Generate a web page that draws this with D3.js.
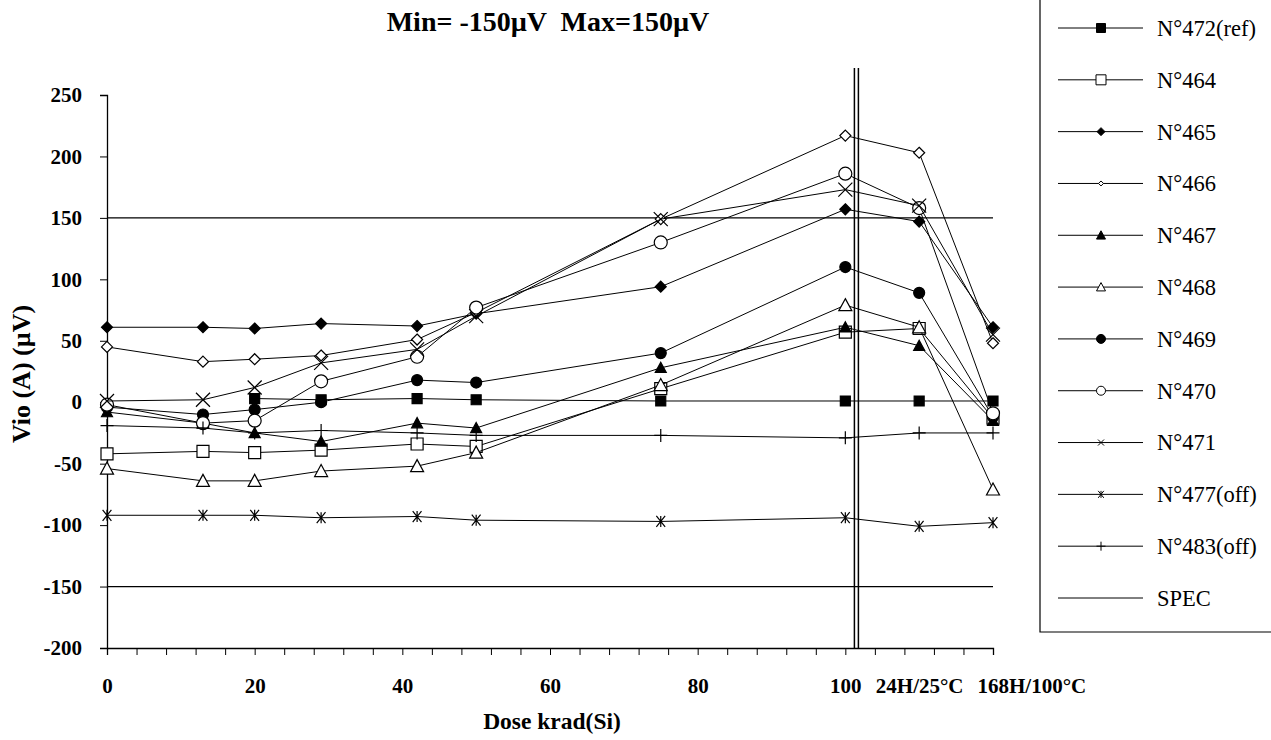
<!DOCTYPE html>
<html>
<head>
<meta charset="utf-8">
<script src="https://cdn.jsdelivr.net/npm/d3@7/dist/d3.min.js"></script>
<style>
  body { margin: 0; background: #fff; }
  svg { display: block; }
  text { font-family: "Liberation Serif", "Times New Roman", serif; fill: #000; }
</style>
</head>
<body>
<svg id="chart" width="1271" height="740"></svg>
<script>
// Dose steps (krad(Si)); the last two are the annealing steps
const doses = [0, 13, 20, 29, 42, 50, 75, 100, 110, 120];
const xTickValues = [0, 20, 40, 60, 80, 100, 110, 120];
const xTickLabels = ["0", "20", "40", "60", "80", "100", "24H/25°C", "168H/100°C"];
const yTickValues = [-200, -150, -100, -50, 0, 50, 100, 150, 200, 250];

// Vio (A) in µV for each device (null = not measured)
const vio472 = [null, null, 3, 2, 3, 2, 1, 1, 1, 1];
const vio464 = [-42, -40, -41, -39, -34, -36, 11, 57, 60, -13];
const vio465 = [61, 61, 60, 64, 62, 72, 94, 157, 147, 61];
const vio466 = [45, 33, 35, 38, 51, 73, 149, 217, 203, 48];
const vio467 = [-8, -17, -25, -32, -17, -21, 28, 61, 46, -15];
const vio468 = [-54, -64, -64, -56, -52, -41, 14, 79, 61, -71];
const vio469 = [-4, -10, -6, 0, 18, 16, 40, 110, 89, -12];
const vio470 = [-2, -17, -15, 17, 37, 77, 130, 186, 158, -9];
const vio471 = [1, 2, 12, 32, 43, 70, 149, 173, 160, 55];
const vio477 = [-92, -92, -92, -94, -93, -96, -97, -94, -101, -98];
const vio483 = [-19, -21, -25, -23, -25, -27, -27, -29, -25, -25];

const seriesNames = ["N°472(ref)", "N°464", "N°465", "N°466", "N°467", "N°468",
                     "N°469", "N°470", "N°471", "N°477(off)", "N°483(off)"];
const seriesValues = [vio472, vio464, vio465, vio466, vio467, vio468,
                      vio469, vio470, vio471, vio477, vio483];
const seriesMarkers = ["squareFilled", "squareOpen", "diamondFilled", "diamondOpen",
                       "triangleFilled", "triangleOpen", "circleFilled", "circleOpen",
                       "cross", "asterisk", "plus"];

// Specification limits (µV)
const specLimits = [150, -150];
// Boundary between irradiation and annealing steps
const irradiationEnd = 101.5;

const svg = d3.select("#chart");

const x = d3.scaleLinear().domain([0, 120]).range([107, 993]);
const y = d3.scaleLinear().domain([-200, 250]).range([648, 95]);

// ---- marker shapes ----
function markerPath(kind, s) {
  const h = s / 2;
  switch (kind) {
    case "squareFilled":
    case "squareOpen":
      return `M${-h},${-h}H${h}V${h}H${-h}Z`;
    case "diamondFilled":
    case "diamondOpen":
      return `M0,${-h}L${h},0L0,${h}L${-h},0Z`;
    case "triangleFilled":
    case "triangleOpen":
      return `M0,${-h}L${h},${h * 0.85}L${-h},${h * 0.85}Z`;
    case "circleFilled":
    case "circleOpen":
      return d3.symbol(d3.symbolCircle, Math.PI * h * h)();
    case "cross":
      return `M${-h},${-h}L${h},${h}M${-h},${h}L${h},${-h}`;
    case "asterisk":
      return `M${-h * 0.8},${-h}L${h * 0.8},${h}M${-h * 0.8},${h}L${h * 0.8},${-h}M0,${-h}V${h}`;
    case "plus":
      return `M${-h},0H${h}M0,${-h}V${h}`;
  }
}
const markerSize = {
  squareFilled: 10, squareOpen: 12, diamondFilled: 11, diamondOpen: 11,
  triangleFilled: 11, triangleOpen: 13, circleFilled: 11, circleOpen: 13,
  cross: 14, asterisk: 11, plus: 13
};
function markerFill(kind) {
  if (kind.endsWith("Filled")) return "#000";
  if (kind.endsWith("Open")) return "#fff";
  return "none";
}

// ---- axes ----
const yAxisMinor = d3.axisLeft(y).tickValues(d3.range(-200, 251, 10)).tickSize(4).tickFormat("");
const yAxis = d3.axisLeft(y).tickValues(yTickValues).tickSize(7).tickPadding(18)
  .tickFormat((d) => String(d));
const xAxisTicks = d3.axisBottom(x).tickValues(d3.range(0, 121, 4)).tickSize(7).tickFormat("");
const xAxisLabels = d3.axisBottom(x).tickValues(xTickValues).tickSize(0).tickPadding(30)
  .tickFormat((d, i) => xTickLabels[i]);

const gy = svg.append("g").attr("transform", `translate(${x(0)},0)`);
gy.call(yAxisMinor);
gy.call(yAxis);
gy.selectAll(".tick text").attr("font-size", 21).attr("font-weight", "bold");
gy.selectAll("path.domain").attr("stroke", "#000").attr("stroke-width", 1.3);
gy.selectAll(".tick line").attr("stroke", "#000");

const gx = svg.append("g").attr("transform", `translate(0,${y(-200)})`);
gx.call(xAxisTicks);
gx.selectAll("path.domain").attr("stroke", "#000").attr("stroke-width", 1.3);
gx.selectAll(".tick line").attr("stroke", "#000");
const gxl = svg.append("g").attr("transform", `translate(0,${y(-200)})`);
gxl.call(xAxisLabels);
gxl.select("path.domain").remove();
gxl.selectAll(".tick text").attr("font-size", 21).attr("font-weight", "bold")
  .attr("text-anchor", (d) => d === 120 ? "start" : "middle")
  .attr("dx", (d) => d === 120 ? -16 : 0);

// ---- spec limits ----
svg.append("g").selectAll("line").data(specLimits).join("line")
  .attr("x1", x(0)).attr("x2", x(120))
  .attr("y1", (d) => y(d)).attr("y2", (d) => y(d))
  .attr("stroke", "#000").attr("stroke-width", 1.2);

// ---- irradiation / annealing separator (double rule) ----
svg.append("g").selectAll("line").data([-2, 2]).join("line")
  .attr("x1", (d) => x(irradiationEnd) + d).attr("x2", (d) => x(irradiationEnd) + d)
  .attr("y1", 68).attr("y2", y(-200))
  .attr("stroke", "#000").attr("stroke-width", 1.5);

// ---- series ----
const line = d3.line().defined((d) => d[1] != null).x((d) => x(d[0])).y((d) => y(d[1]));
seriesValues.forEach((vals, i) => {
  const pts = doses.map((d, k) => [d, vals[k]]);
  const kind = seriesMarkers[i];
  const g = svg.append("g").attr("class", "series");
  g.append("path").attr("d", line(pts)).attr("fill", "none")
    .attr("stroke", "#000").attr("stroke-width", 1);
  g.selectAll("path.mk").data(pts.filter((d) => d[1] != null)).join("path").attr("class", "mk")
    .attr("transform", (d) => `translate(${x(d[0])},${y(d[1])})`)
    .attr("d", markerPath(kind, markerSize[kind]))
    .attr("fill", markerFill(kind)).attr("stroke", "#000").attr("stroke-width", 1.2);
});

// ---- title & axis titles ----
svg.append("text").attr("x", 548).attr("y", 31).attr("text-anchor", "middle")
  .attr("font-size", 28).attr("font-weight", "bold").attr("xml:space", "preserve")
  .text("Min= -150µV  Max=150µV");
svg.append("text").attr("x", 552).attr("y", 729).attr("text-anchor", "middle")
  .attr("font-size", 23.5).attr("font-weight", "bold").text("Dose krad(Si)");
svg.append("text").attr("transform", "translate(30,374) rotate(-90)").attr("text-anchor", "middle")
  .attr("font-size", 26).attr("font-weight", "bold").text("Vio (A) (µV)");

// ---- legend ----
const legend = svg.append("g");
legend.append("path").attr("d", "M1040,-2V632H1275").attr("fill", "none")
  .attr("stroke", "#000").attr("stroke-width", 1.2);
const legendNames = seriesNames.concat(["SPEC"]);
const legendMarkers = seriesMarkers.concat([null]);
const legendY = d3.scalePoint().domain(legendNames).range([28, 598]);
const legendSize = {
  squareFilled: 9, squareOpen: 10, diamondFilled: 8, diamondOpen: 5,
  triangleFilled: 9, triangleOpen: 9, circleFilled: 9, circleOpen: 9,
  cross: 6, asterisk: 7, plus: 9
};
legendNames.forEach((name, i) => {
  const gy0 = legendY(name);
  const row = legend.append("g").attr("transform", `translate(0,${gy0})`);
  row.append("line").attr("x1", 1058).attr("x2", 1143).attr("stroke", "#000").attr("stroke-width", 1);
  const kind = legendMarkers[i];
  if (kind) {
    row.append("path").attr("transform", "translate(1101,0)")
      .attr("d", markerPath(kind, legendSize[kind]))
      .attr("fill", markerFill(kind)).attr("stroke", "#000").attr("stroke-width", 1);
  }
  row.append("text").attr("x", 1157).attr("y", 0).attr("dy", "0.35em")
    .attr("font-size", 22.5).text(name);
});
</script>
</body>
</html>
